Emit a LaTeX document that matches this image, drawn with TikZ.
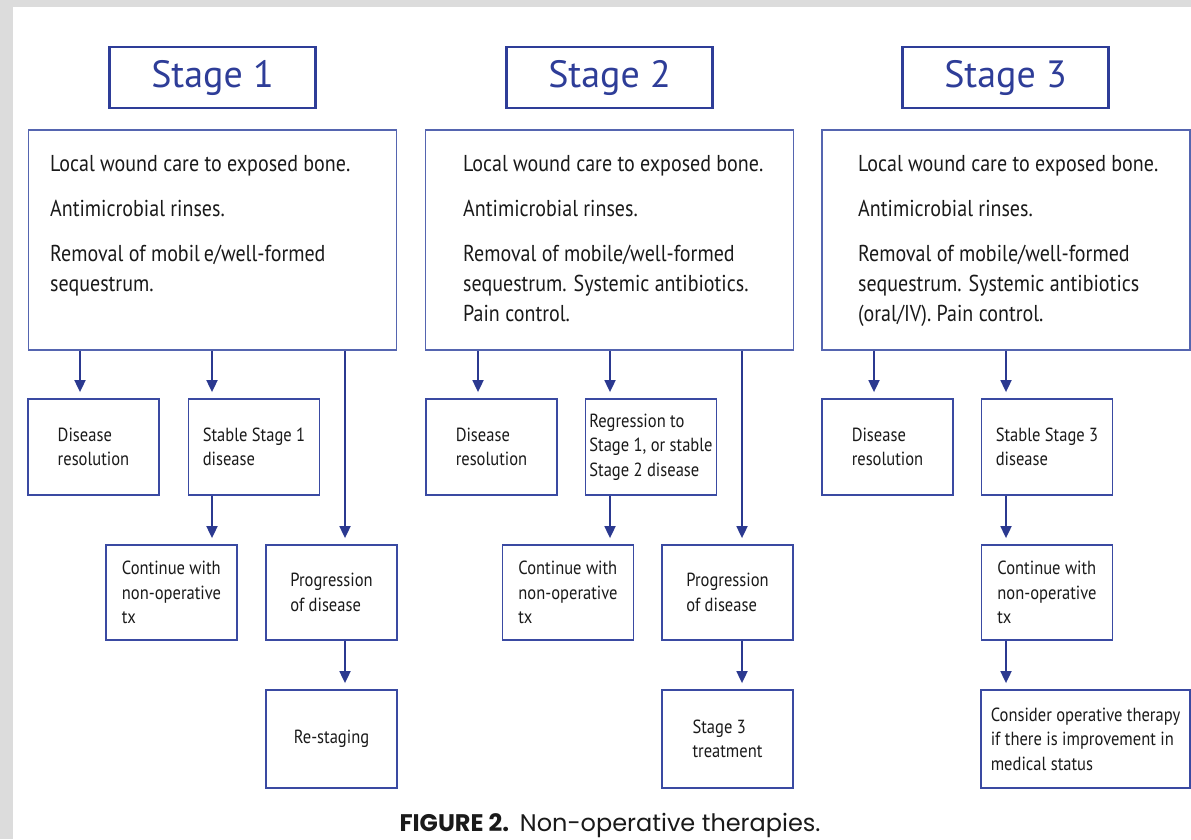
\documentclass[tikz,border=0pt]{standalone}
\usepackage{fontspec}
\setmainfont{PT Sans}
\newfontfamily\condf[FakeStretch=0.87]{PT Sans}
\newfontfamily\capf{Poppins}
\usetikzlibrary{arrows.meta}
\definecolor{tblue}{HTML}{2E3D98}
\definecolor{mblue}{HTML}{5565B0}
\definecolor{sblue}{HTML}{3A4AA2}
\definecolor{ablue}{HTML}{2B3990}
\definecolor{txt}{HTML}{1A1A1A}
\definecolor{bggray}{HTML}{DCDCDC}
\begin{document}
\begin{tikzpicture}[x=1pt,y=-1pt,
  titlebox/.style={draw=tblue, line width=2.6pt, minimum width=206pt, minimum height=61pt, inner sep=0pt, text=tblue, font=\fontsize{38}{38}\selectfont},
  mainbox/.style={draw=mblue, line width=1.6pt, minimum width=368pt, minimum height=220pt, inner sep=0pt},
  maintext/.style={anchor=north west, inner sep=0pt, align=left, text=txt, font=\condf\fontsize{23}{30}\selectfont},
  sbox/.style={draw=sblue, line width=1.8pt, minimum width=131pt, minimum height=96pt, inner sep=2pt, align=left, text=txt, font=\condf\fontsize{19}{24.5}\selectfont},
  arr/.style={draw=ablue, line width=1.8pt, -{Triangle[length=12pt,width=11pt]}, shorten >=6pt}
]
\useasboundingbox (0,0) rectangle (1191,839);
\fill[bggray] (0,0) rectangle (1191,839);
\fill[white] (13,7) rectangle (1191,839);

% titles
\node[titlebox] (t1) at (212.5,77.5) {Stage 1};
\node[titlebox] (t2) at (609.5,77.5) {Stage 2};
\node[titlebox] (t3) at (1005.5,77.5) {Stage 3};

% main boxes
\node[mainbox] (m1) at (212.5,240) {};
\node[mainbox] (m2) at (609.5,240) {};
\node[mainbox] (m3) at (1006,240) {};
\node[maintext] (m1t) at (50,155) {Local wound care to exposed bone.\\[15pt] Antimicrobial rinses.\\[15pt] Removal of mobil\,e/well-formed\\ sequestrum.};
\node[maintext] (m2t) at (463,155) {Local wound care to exposed bone.\\[15pt] Antimicrobial rinses.\\[15pt] Removal of mobile/well-formed\\ sequestrum. Systemic antibiotics.\\ Pain control.};
\node[maintext] (m3t) at (858,155) {Local wound care to exposed bone.\\[15pt] Antimicrobial rinses.\\[15pt] Removal of mobile/well-formed\\ sequestrum. Systemic antibiotics\\ (oral/IV). Pain control.};

% row 2
\node[sbox] (d1) at (93.5,447) {Disease\\ resolution};
\node[sbox] (s1) at (254,447) {Stable Stage 1\\ disease};
\node[sbox] (d2) at (491.5,447) {Disease\\ resolution};
\node[sbox] (s2) at (651,447) {Regression to\\ Stage 1, or stable\\ Stage 2 disease};
\node[sbox] (d3) at (887.5,447) {Disease\\ resolution};
\node[sbox] (s3) at (1047,447) {Stable Stage 3\\ disease};

% row 3
\node[sbox, minimum height=95pt] (c1) at (171.5,592.5) {Continue with\\ non-operative\\ tx};
\node[sbox, minimum height=95pt] (p1) at (331.5,592.5) {Progression\\ of disease};
\node[sbox, minimum height=95pt] (c2) at (568,592.5) {Continue with\\ non-operative\\ tx};
\node[sbox, minimum height=95pt] (p2) at (727.5,592.5) {Progression\\ of disease};
\node[sbox, minimum height=95pt] (c3) at (1047,592.5) {Continue with\\ non-operative\\ tx};

% row 4
\node[sbox, minimum height=98pt] (r1) at (331.5,739) {Re-staging};
\node[sbox, minimum height=98pt] (r2) at (727.5,739) {Stage 3\\ treatment};
\node[sbox, minimum height=98pt, minimum width=209pt] (r3) at (1085.5,739) {Consider operative therapy\\ if there is improvement in\\ medical status};

% arrows stage 1
\draw[arr] (m1.south -| 80,0) -- (d1.north -| 80,0);
\draw[arr] (m1.south -| 212,0) -- (s1.north -| 212,0);
\draw[arr] (m1.south -| 345,0) -- (p1.north -| 345,0);
\draw[arr] (s1.south -| 212,0) -- (c1.north -| 212,0);
\draw[arr] (p1.south -| 345,0) -- (r1.north -| 345,0);
% arrows stage 2
\draw[arr] (m2.south -| 478,0) -- (d2.north -| 478,0);
\draw[arr] (m2.south -| 610,0) -- (s2.north -| 610,0);
\draw[arr] (m2.south -| 742,0) -- (p2.north -| 742,0);
\draw[arr] (s2.south -| 610,0) -- (c2.north -| 610,0);
\draw[arr] (p2.south -| 742,0) -- (r2.north -| 742,0);
% arrows stage 3
\draw[arr] (m3.south -| 874,0) -- (d3.north -| 874,0);
\draw[arr] (m3.south -| 1006,0) -- (s3.north -| 1006,0);
\draw[arr] (s3.south -| 1006,0) -- (c3.north -| 1006,0);
\draw[arr] (c3.south -| 1006,0) -- (r3.north -| 1006,0);

% caption
\node[inner sep=0pt, text=txt, font=\capf\fontsize{24}{24}\selectfont] (cap) at (610,825) {{\bfseries FIGURE 2.}\hspace{0.45em}Non-operative therapies.};
\end{tikzpicture}
\end{document}
